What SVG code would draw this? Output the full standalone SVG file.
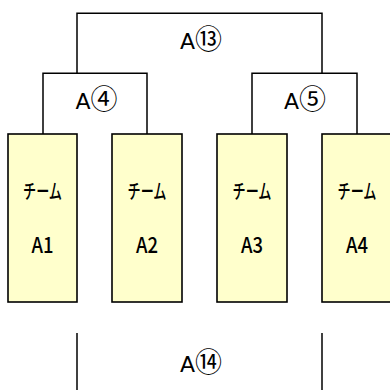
<svg xmlns="http://www.w3.org/2000/svg" width="390" height="390" viewBox="0 0 390 390">
<style>
.line{fill:none;stroke:#000;stroke-width:1.5}
.team{fill:#FFFFCC;stroke:#000;stroke-width:1.6}
.lbl{font-family:"DejaVu Sans","Noto Sans CJK JP",sans-serif;font-size:22px;fill:#000;text-anchor:middle}
.circ{font-family:"Noto Sans CJK JP",sans-serif;font-size:27px}
.tj{font-family:"Noto Sans CJK JP",sans-serif;font-size:20px;font-weight:500;fill:#000;text-anchor:middle}
.tn{font-family:"Noto Sans CJK JP",sans-serif;font-size:22px;font-weight:500;fill:#000;text-anchor:middle}
</style>
<rect width="390" height="390" fill="#fff"/>
<g id="connectors">
<polyline class="line" points="77,73 77,13.3 322,13.3 322,73"/>
<polyline class="line" points="43,134 43,73.3 147,73.3 147,134"/>
<polyline class="line" points="252,134 252,73.3 357,73.3 357,134"/>
<line class="line" x1="77" y1="333" x2="77" y2="390"/>
<line class="line" x1="322" y1="333" x2="322" y2="390"/>
</g>
<g id="matchA13"><text class="lbl" x="201" y="48.5">A<tspan class="circ">⑬</tspan></text></g>
<g id="matchA4"><text class="lbl" x="96.5" y="108.5">A<tspan class="circ">④</tspan></text></g>
<g id="matchA5"><text class="lbl" x="305" y="108.5">A<tspan class="circ">⑤</tspan></text></g>
<g id="matchA14"><text class="lbl" x="201" y="372">A<tspan class="circ">⑭</tspan></text></g>
<g id="teamA1">
<rect class="team" x="8" y="134" width="69" height="168"/>
<text class="tj" x="42.5" y="199" textLength="39" lengthAdjust="spacingAndGlyphs">チーム</text>
<text class="tn" x="42.5" y="253" textLength="22" lengthAdjust="spacingAndGlyphs">A1</text>
</g>
<g id="teamA2">
<rect class="team" x="112" y="134" width="70" height="168"/>
<text class="tj" x="147" y="199" textLength="39" lengthAdjust="spacingAndGlyphs">チーム</text>
<text class="tn" x="147" y="253" textLength="22" lengthAdjust="spacingAndGlyphs">A2</text>
</g>
<g id="teamA3">
<rect class="team" x="217" y="134" width="70" height="168"/>
<text class="tj" x="252" y="199" textLength="39" lengthAdjust="spacingAndGlyphs">チーム</text>
<text class="tn" x="252" y="253" textLength="22" lengthAdjust="spacingAndGlyphs">A3</text>
</g>
<g id="teamA4">
<rect class="team" x="322" y="134" width="70" height="168"/>
<text class="tj" x="357" y="199" textLength="39" lengthAdjust="spacingAndGlyphs">チーム</text>
<text class="tn" x="357" y="253" textLength="22" lengthAdjust="spacingAndGlyphs">A4</text>
</g>
</svg>
